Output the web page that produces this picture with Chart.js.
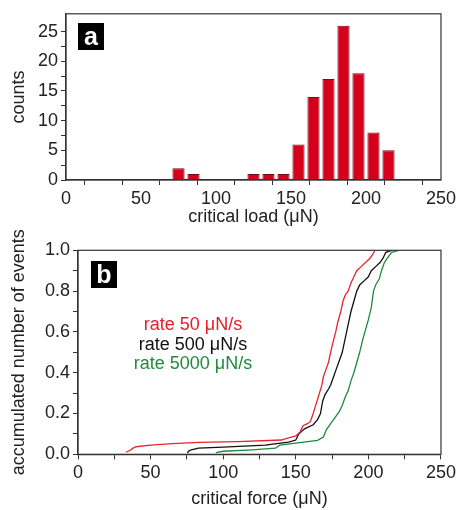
<!DOCTYPE html>
<html>
<head>
<meta charset="utf-8">
<script src="https://cdn.jsdelivr.net/npm/chart.js@4"></script>
<style>
    body { margin: 0; background: #fff; }
    #wrap { position: relative; width: 459px; height: 510px; overflow: hidden; font-family: "Liberation Sans", Arial, sans-serif; }
    canvas { position: absolute; left: 0; }
    #histChart { top: 0; }
    #cdfChart { top: 216px; }
    .panel { position: absolute; width: 26px; height: 27px; background: #000; color: #fff; font: bold 25px "Liberation Sans", Arial, sans-serif; text-align: center; line-height: 27px; }
    #legendText { position: absolute; left: 93px; top: 315px; width: 200px; text-align: center; font-size: 18px; line-height: 19.5px; }
</style>
</head>
<body>
<div id="wrap">
    <canvas id="histChart" width="459" height="232"></canvas>
    <canvas id="cdfChart" width="459" height="294"></canvas>
    <div class="panel" style="left:78px;top:23px;">a</div>
    <div class="panel" style="left:91px;top:261px;">b</div>
    <div id="legendText">
        <div style="color:#e3202b">rate 50 μN/s</div>
        <div style="color:#111">rate 500 μN/s</div>
        <div style="color:#238a3c">rate 5000 μN/s</div>
    </div>
</div>
<script>
// histogram bins (centre of 10 uN bin) and counts
const binCenters = [75, 85, 125, 135, 145, 155, 165, 175, 185, 195, 205, 215];
const binCounts = [2, 1, 1, 1, 1, 6, 14, 17, 26, 18, 8, 5];

// cumulative curves
const rate50X = [33, 36, 38, 40, 50, 65, 83, 110, 140, 145, 150, 153, 155, 158, 160, 162, 163.5, 165, 166.5, 168, 169, 171, 172.5, 174, 176, 177.5, 179, 181, 182.5, 184, 186, 188, 190, 192, 195, 198, 201, 203, 204.5];
const rate50Y = [0.01, 0.02, 0.03, 0.037, 0.045, 0.052, 0.058, 0.062, 0.07, 0.08, 0.09, 0.11, 0.14, 0.15, 0.16, 0.2, 0.235, 0.27, 0.305, 0.34, 0.38, 0.42, 0.45, 0.5, 0.56, 0.6, 0.65, 0.7, 0.75, 0.78, 0.8, 0.84, 0.87, 0.9, 0.92, 0.94, 0.96, 0.98, 1.0];
const rate500X = [75.5, 76, 78, 83, 100, 129, 145, 150, 152, 156, 162, 165, 167, 168.5, 170, 172.5, 174, 176, 178, 180, 182, 183.5, 185, 186.5, 188, 190, 192, 194, 197, 200, 202, 205, 208, 210, 212, 216];
const rate500Y = [0.005, 0.015, 0.022, 0.03, 0.035, 0.045, 0.06, 0.07, 0.1, 0.125, 0.145, 0.17, 0.2, 0.26, 0.29, 0.32, 0.34, 0.38, 0.42, 0.46, 0.5, 0.55, 0.6, 0.65, 0.7, 0.75, 0.8, 0.83, 0.85, 0.87, 0.9, 0.92, 0.94, 0.96, 0.99, 1.0];
const rate5000X = [95, 100, 120, 136, 139, 150, 165, 169, 171, 174, 177, 180, 182, 184, 186, 188, 190, 192, 194, 196, 198, 200, 202, 203.5, 205, 207.5, 209, 211, 213, 216, 221];
const rate5000Y = [0.008, 0.015, 0.022, 0.03, 0.045, 0.055, 0.068, 0.085, 0.12, 0.15, 0.18, 0.21, 0.24, 0.28, 0.31, 0.36, 0.4, 0.45, 0.5, 0.56, 0.61, 0.66, 0.72, 0.8, 0.83, 0.86, 0.9, 0.94, 0.96, 0.99, 1.0];

const FONT = { family: '"Liberation Sans", Arial, sans-serif', size: 18 };
const AXIS = '#333';

const toPoints = (xs, ys) => xs.map((x, i) => ({ x, y: ys[i] }));

// frame round the plot area
const frame = {
    id: 'frame',
    afterDatasetsDraw(chart) {
        const { ctx, chartArea: a } = chart;
        ctx.save();
        ctx.strokeStyle = AXIS;
        ctx.lineWidth = 1.2;
        ctx.strokeRect(a.left, a.top, a.right - a.left, a.bottom - a.top);
        ctx.restore();
    }
};

function axisBase(width, height) {
    return {
        grid: { drawOnChartArea: false, drawTicks: true, tickLength: 5, tickColor: AXIS },
        border: { display: true, color: AXIS, width: 1.2 },
        ticks: { color: '#222', font: FONT, padding: 3, autoSkip: false, maxRotation: 0 },
        afterFit(scale) {
            if (width) scale.width = width;
            if (height) scale.height = height;
        }
    };
}

Chart.defaults.animation = false;

// panel a
const hx = axisBase(null, 52);
hx.type = 'linear';
hx.min = 0; hx.max = 250; hx.offset = false;
hx.ticks.stepSize = 25;
hx.ticks.callback = v => (v % 50 === 0 ? v : '');
hx.title = { display: true, text: 'critical load (μN)', color: '#222', font: FONT, padding: { top: 0, bottom: 4 } };

const hy = axisBase(66, null);
hy.min = 0; hy.max = 28;
hy.ticks.stepSize = 2.5;
hy.ticks.callback = v => (v % 5 === 0 ? v : '');
hy.afterBuildTicks = s => { s.ticks = s.ticks.filter(t => t.value <= 27.5); };
hy.title = { display: true, text: 'counts', color: '#222', font: FONT, padding: { top: 8, bottom: 0 } };

new Chart(document.getElementById('histChart'), {
    type: 'bar',
    data: {
        datasets: [{
            data: toPoints(binCenters, binCounts),
            backgroundColor: '#d5001c',
            borderColor: '#7a0a14',
            borderWidth: 1,
            barPercentage: 0.9,
            categoryPercentage: 0.9
        }]
    },
    options: {
        responsive: false,
        layout: { padding: { top: 12, right: 16, left: 0, bottom: 0 } },
        plugins: { legend: { display: false }, tooltip: { enabled: false } },
        scales: { x: hx, y: hy }
    },
    plugins: [frame]
});

// panel b (canvas starts at y=216)
const cx = axisBase(null, 55.7);
cx.type = 'linear';
cx.min = 0; cx.max = 250;
cx.ticks.stepSize = 25;
cx.ticks.callback = v => (v % 50 === 0 ? v : '');
cx.title = { display: true, text: 'critical force (μN)', color: '#222', font: FONT, padding: { top: 0, bottom: 0 } };

const cy = axisBase(78, null);
cy.min = 0; cy.max = 1;
cy.ticks.stepSize = 0.1;
cy.ticks.callback = v => (Math.round(v * 10) % 2 === 0 ? v.toFixed(1) : '');
cy.title = { display: true, text: 'accumulated number of events', color: '#222', font: FONT, padding: { top: 8, bottom: 0 } };

const lineSet = (label, xs, ys, color) => ({
    label,
    data: toPoints(xs, ys),
    borderColor: color,
    borderWidth: 1.3,
    pointRadius: 0,
    tension: 0,
    fill: false
});

new Chart(document.getElementById('cdfChart'), {
    type: 'line',
    data: {
        datasets: [
            lineSet('rate 50 μN/s', rate50X, rate50Y, '#e8242e'),
            lineSet('rate 500 μN/s', rate500X, rate500Y, '#111111'),
            lineSet('rate 5000 μN/s', rate5000X, rate5000Y, '#1e8a3c')
        ]
    },
    options: {
        responsive: false,
        layout: { padding: { top: 34.3, right: 16, left: 0, bottom: 0 } },
        plugins: { legend: { display: false }, tooltip: { enabled: false } },
        scales: { x: cx, y: cy }
    },
    plugins: [frame]
});
</script>
</body>
</html>
